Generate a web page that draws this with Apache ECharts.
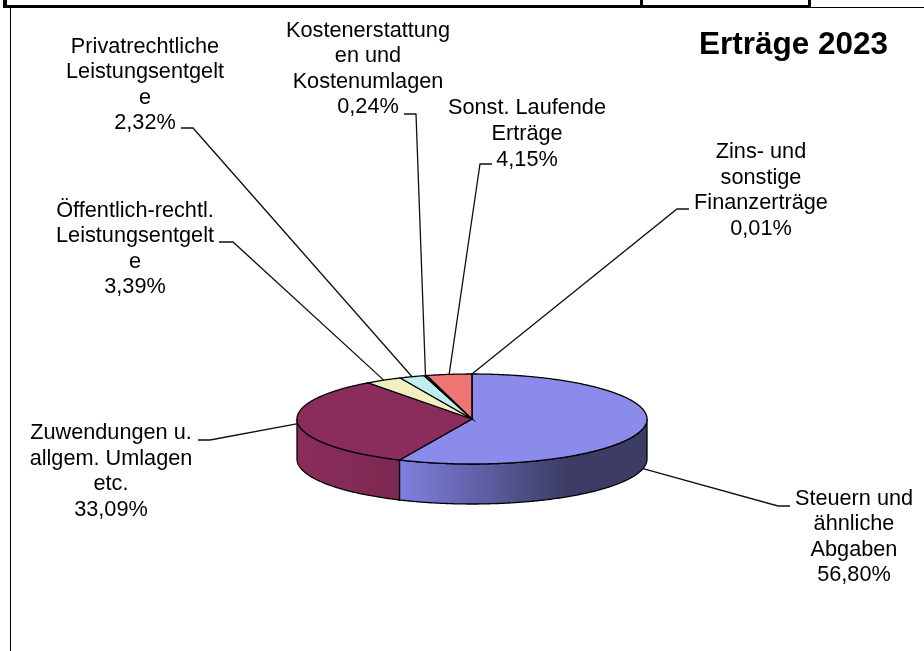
<!DOCTYPE html>
<html>
<head>
<meta charset="utf-8">
<title>Erträge 2023</title>
<style>
  html, body { margin: 0; padding: 0; background: #fff; }
  #chart { width: 924px; height: 651px; }
</style>
<script src="https://cdn.jsdelivr.net/npm/echarts@6/dist/echarts.min.js"></script>
</head>
<body>
<div id="chart"></div>
<script>
// data, clockwise from 12 o'clock
const categories = [
  'Steuern und\nähnliche\nAbgaben',
  'Zuwendungen u.\nallgem. Umlagen\netc.',
  'Öffentlich-rechtl.\nLeistungsentgelt\ne',
  'Privatrechtliche\nLeistungsentgelt\ne',
  'Kostenerstattung\nen und\nKostenumlagen',
  'Sonst. Laufende\nErträge',
  'Zins- und\nsonstige\nFinanzerträge',
];
const shares = [56.8, 33.09, 3.39, 2.32, 0.24, 4.15, 0.01];

const topColors = ['#8B8BEB', '#8B2D5C', '#EFEFC0', '#BFEFEF', '#600F60', '#EF7575', '#005FBF'];
const chartTitle = 'Erträge 2023';

// text centre and leader line elbow in pixels, same order as categories
const labelLayout = [
  { x: 854, y: 537, from: [790, 506], elbow: [778, 506], drop: true },
  { x: 111, y: 471.5, from: [198, 440], elbow: [210, 440] },
  { x: 135, y: 249, from: [219, 242], elbow: [233, 242] },
  { x: 145, y: 85, from: [181, 128], elbow: [193, 128] },
  { x: 368, y: 69, from: [404, 114], elbow: [416, 114] },
  { x: 527, y: 134, from: [492, 164], elbow: [480, 164] },
  { x: 761, y: 190.5, from: [689, 209], elbow: [677, 209] },
];

const DEPTH = 40; // wall height of the pie, px
const FONT = '"Liberation Sans", Arial, sans-serif';

let sum = 0;
const ranges = shares.map(function (v) {
  const start = sum;
  sum += v;
  return [start, sum];
});
const total = sum;

function toAngle(v) {
  return (v / total) * Math.PI * 2;
}

// point of the rim, angle measured clockwise from the top
function rim(api, a) {
  return api.coord([Math.sin(a), Math.cos(a)]);
}

function arcPoints(api, a0, a1) {
  const pts = [];
  const steps = Math.max(2, Math.ceil((a1 - a0) / 0.01));
  for (let i = 0; i <= steps; i++) {
    pts.push(rim(api, a0 + ((a1 - a0) * i) / steps));
  }
  return pts;
}

function wallFill(i) {
  if (i === 0) {
    return {
      type: 'linear', x: 0, y: 0, x2: 1, y2: 0,
      colorStops: [
        { offset: 0, color: '#8080E0' },
        { offset: 0.68, color: '#3C3C66' },
        { offset: 1, color: '#3C3C66' },
      ],
    };
  }
  return {
    type: 'linear', x: 0, y: 0, x2: 1, y2: 0,
    colorStops: [
      { offset: 0, color: '#8B2D5C' },
      { offset: 1, color: '#7C2850' },
    ],
  };
}

function renderSlice(params, api) {
  const i = params.dataIndex;
  const a0 = toAngle(ranges[i][0]);
  const a1 = toAngle(ranges[i][1]);
  const children = [];

  // only the front half of the rim has a visible wall
  const w0 = Math.max(a0, Math.PI / 2);
  const w1 = Math.min(a1, (Math.PI * 3) / 2);
  if (w1 > w0) {
    const upper = arcPoints(api, w0, w1);
    const lower = upper.map(function (p) { return [p[0], p[1] + DEPTH]; }).reverse();
    children.push({
      type: 'polygon',
      shape: { points: upper.concat(lower) },
      style: { fill: wallFill(i), stroke: '#000', lineWidth: 1.3 },
    });
  }

  const centre = api.coord([0, 0]);
  children.push({
    type: 'polygon',
    shape: { points: [centre].concat(arcPoints(api, a0, a1)) },
    style: { fill: topColors[i], stroke: '#000', lineWidth: i === 6 ? 0.3 : 1.3 },
  });
  return { type: 'group', children: children };
}

function renderLabel(params, api) {
  const i = params.dataIndex;
  const l = labelLayout[i];
  const mid = toAngle((ranges[i][0] + ranges[i][1]) / 2);
  const end = rim(api, mid);
  if (l.drop) end[1] += DEPTH;
  const text = categories[i] + '\n' + shares[i].toFixed(2).replace('.', ',') + '%';
  return {
    type: 'group',
    children: [
      {
        type: 'polyline',
        shape: { points: [l.from, l.elbow, end] },
        style: { fill: null, stroke: '#111', lineWidth: 1.3 },
      },
      {
        type: 'text',
        style: {
          text: text,
          x: l.x,
          y: l.y,
          align: 'center',
          verticalAlign: 'middle',
          font: '21.7px ' + FONT,
          lineHeight: 25.6,
          fill: '#000',
        },
      },
    ],
  };
}

const chart = echarts.init(document.getElementById('chart'), null, { renderer: 'canvas' });

chart.setOption({
  animation: false,
  backgroundColor: '#fff',
  title: {
    text: chartTitle,
    left: 694,
    top: 24,
    textStyle: { fontFamily: FONT, fontSize: 31.5, fontWeight: 'bold', color: '#000' },
  },
  grid: { left: 297, top: 374, width: 350, height: 90 },
  xAxis: { type: 'value', min: -1, max: 1, show: false },
  yAxis: { type: 'value', min: -1, max: 1, show: false },
  // sheet cell borders around the chart
  graphic: [
    { type: 'rect', shape: { x: 3, y: 5, width: 807, height: 3 }, style: { fill: '#000' } },
    { type: 'rect', shape: { x: 3, y: 0, width: 4, height: 8 }, style: { fill: '#000' } },
    { type: 'rect', shape: { x: 640, y: 0, width: 3, height: 8 }, style: { fill: '#000' } },
    { type: 'rect', shape: { x: 808, y: 0, width: 3, height: 8 }, style: { fill: '#000' } },
    { type: 'rect', shape: { x: 810, y: 7, width: 114, height: 1 }, style: { fill: '#000' } },
    { type: 'rect', shape: { x: 10, y: 8, width: 1, height: 643 }, style: { fill: '#000' } },
  ],
  series: [
    {
      type: 'custom',
      coordinateSystem: 'cartesian2d',
      renderItem: renderLabel,
      data: shares.map(function (v, i) { return [i, v]; }),
      silent: true,
      z: 1,
    },
    {
      type: 'custom',
      coordinateSystem: 'cartesian2d',
      renderItem: renderSlice,
      data: shares.map(function (v, i) { return [i, v]; }),
      silent: true,
      z: 2,
    },
  ],
});
</script>
</body>
</html>
